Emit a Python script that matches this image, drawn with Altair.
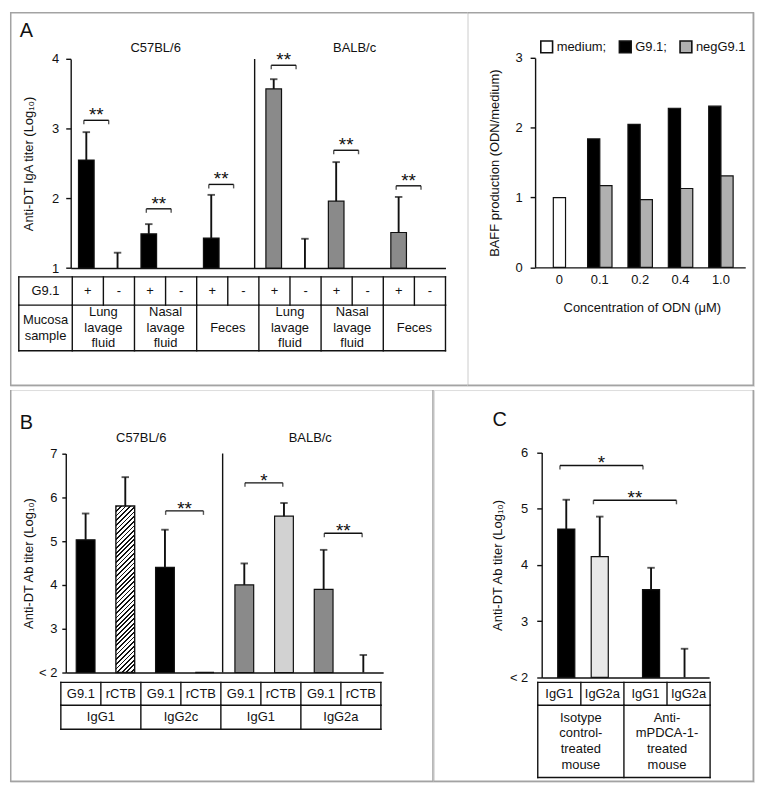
import altair as alt
import pandas as pd

FONT = "Liberation Sans"
INK = "#111111"
FRAME = "#a3a3a3"
FS = 13

# ---------------- data ----------------
# Panel A (left): anti-DT IgA titer (log10) in mucosal samples
a_strain = ["C57BL/6"] * 6 + ["BALB/c"] * 6
a_g91 = ["+", "-"] * 6
a_sample = ["Lung\nlavage\nfluid", "Nasal\nlavage\nfluid", "Feces"] * 2
a_mean = [2.55, None, 1.49, None, 1.43, None, 3.57, None, 1.96, None, 1.51, None]
a_upper = [2.95, 1.22, 1.63, None, 2.05, None, 3.71, 1.42, 2.52, None, 2.02, None]
a_br_from = [0, 2, 4, 6, 8, 10]
a_br_to = [1, 3, 5, 7, 9, 11]
a_br_y = [3.12, 1.85, 2.20, 3.91, 2.69, 2.18]
a_br_label = ["**"] * 6
a_yticks = [1, 2, 3, 4]

# Panel A (right): BAFF production
odn_conc = ["0", "0.1", "0.2", "0.4", "1.0"]
baff_series = ["medium", "G9.1", "negG9.1"]
baff_medium = [1.00, None, None, None, None]
baff_g91 = [None, 1.84, 2.05, 2.28, 2.31]
baff_neg = [None, 1.17, 0.97, 1.13, 1.31]
baff_yticks = [0, 1, 2, 3]

# Panel B: anti-DT Ab titer (log10)
b_strain = ["C57BL/6"] * 4 + ["BALB/c"] * 4
b_adjuvant = ["G9.1", "rCTB"] * 4
b_isotype = ["IgG1", "IgG2c", "IgG1", "IgG2a"]
b_mean = [5.03, 5.80, 4.40, 2.00, 4.00, 5.57, 3.90, None]
b_upper = [5.63, 6.46, 5.26, None, 4.49, 5.87, 4.80, 2.40]
b_br_from = [2, 4, 6]
b_br_to = [3, 5, 7]
b_br_y = [5.69, 6.33, 5.18]
b_br_label = ["**", "*", "**"]
b_yticks = [2, 3, 4, 5, 6, 7]

# Panel C
c_treatment = ["Isotype\ncontrol-\ntreated\nmouse", "Anti-\nmPDCA-1-\ntreated\nmouse"]
c_isotype = ["IgG1", "IgG2a"]
c_mean = [4.64, 4.15, 3.56, None]
c_upper = [5.16, 4.86, 3.95, 2.51]
c_br_from = [0, 1]
c_br_to = [2, 3]
c_br_y = [5.77, 5.15]
c_br_label = ["*", "**"]
c_yticks = [2, 3, 4, 5, 6]

# ---------------- layout helpers ----------------
SX, SY = 0.99, 0.99
def X(r): return r * SX - 5
def Y(r): return r * SY - 5

W, H = 748, 770
TOP_H = round(Y(385))
BOT_H = H - TOP_H
AL_W = round(X(470))
AR_W = W - AL_W
B_W = round(X(435))
C_W = W - B_W

DUMMY = pd.DataFrame({"d": [0]})


def vline(x, y1, y2, color=FRAME, w=1.5):
    return alt.Chart(DUMMY).mark_rule(color=color, strokeWidth=w).encode(
        x=alt.value(x), y=alt.value(y1), y2=alt.value(y2))


def hline(x1, x2, y, color=FRAME, w=1.5):
    return alt.Chart(DUMMY).mark_rule(color=color, strokeWidth=w).encode(
        x=alt.value(x1), x2=alt.value(x2), y=alt.value(y))


def label(x, y, txt, size=FS, align="center", baseline="middle"):
    return alt.Chart(DUMMY).mark_text(font=FONT, fontSize=size, align=align,
                                      baseline=baseline, color=INK).encode(
        x=alt.value(x), y=alt.value(y), text=alt.value(txt))


def y_axis(values, title, axis_x, title_x, y_rng, tick=5, pad=6, label_expr=None):
    kw = dict(values=values, title=title, offset=-axis_x, tickSize=tick, labelPadding=pad,
              grid=False, domainColor=INK, domainWidth=1.4, tickColor=INK, tickWidth=1.4,
              labelFont=FONT, labelFontSize=FS, labelColor=INK,
              titleFont=FONT, titleFontSize=FS, titleFontWeight="normal", titleColor=INK,
              titleX=title_x - axis_x, titleY=(y_rng[0] + y_rng[1]) / 2,
              titleAngle=270, titleAlign="center", titleBaseline="middle")
    if label_expr:
        kw["labelExpr"] = label_expr
    return alt.Axis(**kw)


def x_axis_domain(y_bottom, cell_h):
    return alt.Axis(labels=False, ticks=False, title=None, grid=False,
                    domainColor=INK, domainWidth=1.4, offset=y_bottom - cell_h)


def table_layers(ncols, px0, px1, edges, rows, hdr_px=None, hdr_texts=None, lh=15.6):
    step = (px1 - px0) / ncols
    left = 0.0 if hdr_px is None else -(px0 - hdr_px) / step
    tx = alt.Scale(domain=[0, ncols], range=[px0, px1], zero=False, nice=False)
    texts, hl, vl = [], [], []

    def add_text(cx, yc, txt):
        n = txt.count("\n")
        texts.append(dict(cx=cx, py=yc - n * lh / 2, txt=txt))

    for r, cells in enumerate(rows):
        yt, yb = edges[r], edges[r + 1]
        yc = (yt + yb) / 2
        bnds = {left, float(ncols)}
        for c0, span, txt in cells:
            add_text(c0 + span / 2, yc, txt)
            bnds.add(float(c0))
        if hdr_texts:
            add_text(left / 2, yc, hdr_texts[r])
        for b in sorted(bnds):
            vl.append(dict(x=b, py1=yt, py2=yb))
    for e in edges:
        hl.append(dict(x1=left, x2=float(ncols), py=e))

    def TX(f):
        return alt.X(f, scale=tx, axis=None)

    l1 = alt.Chart(pd.DataFrame(hl)).mark_rule(color=INK, strokeWidth=1.4, strokeCap="square").encode(
        x=TX("x1:Q"), x2=alt.X2("x2"), y=alt.Y("py:Q", scale=None, axis=None))
    l2 = alt.Chart(pd.DataFrame(vl)).mark_rule(color=INK, strokeWidth=1.4, strokeCap="square").encode(
        x=TX("x:Q"), y=alt.Y("py1:Q", scale=None, axis=None), y2=alt.Y2("py2"))
    l3 = alt.Chart(pd.DataFrame(texts)).mark_text(
        font=FONT, fontSize=FS, lineBreak="\n", lineHeight=lh, color=INK,
        align="center", baseline="middle").encode(
        x=TX("cx:Q"), y=alt.Y("py:Q", scale=None, axis=None), text="txt:N")
    return alt.layer(l1, l2, l3)


def bracket_layers(items, xscale, xaxis, yscale, yaxis, star_dy, tick_len=4.0):
    """items: list of (from_cat, to_cat, off_from_px, off_to_px, dist_px, y, label)"""
    out = []
    for cf, ct, of, ot, dist, yv, lab in items:
        d = alt.Chart(pd.DataFrame({"f": [cf], "t": [ct], "y": [yv], "lab": [lab]}))
        XF = alt.X("f:N", scale=xscale, axis=xaxis)
        XT = alt.X("t:N", scale=xscale, axis=xaxis)
        YY = alt.Y("y:Q", scale=yscale, axis=yaxis)
        out.append(d.mark_rule(color=INK, strokeWidth=1.4, xOffset=of, x2Offset=ot).encode(
            x=XF, x2=alt.X2("t"), y=YY))
        out.append(d.mark_tick(orient="vertical", size=tick_len, thickness=1.4, color=INK,
                               xOffset=of, yOffset=tick_len / 2).encode(x=XF, y=YY))
        out.append(d.mark_tick(orient="vertical", size=tick_len, thickness=1.4, color=INK,
                               xOffset=ot, yOffset=tick_len / 2).encode(x=XT, y=YY))
        out.append(d.mark_text(font=FONT, fontSize=19, color=INK, align="center",
                               baseline="alphabetic", dx=(dist + of + ot) / 2,
                               dy=star_dy).encode(x=XF, y=YY, text="lab:N"))
    return out


def hatch_gradient(w, h, period=4.6, duty=0.38):
    a = w / h
    k = (w + h) / (h * (1 + a * a))
    n = int((w + h) / period)
    stops = []
    for i in range(n):
        s0, s1, s2 = i / n, (i + duty) / n, (i + 1) / n
        stops += [{"offset": s0, "color": INK}, {"offset": s1, "color": INK},
                  {"offset": s1, "color": "#ffffff"}, {"offset": s2, "color": "#ffffff"}]
    return {"gradient": "linear", "x1": 0, "y1": 0, "x2": k * a, "y2": k, "stops": stops}


WH_W = 1.9  # whisker stroke width

# ================= Panel A (left) =================
aL_y0, aL_y1 = Y(265), Y(52.7)
aL_ax = X(66.7)
aL_x1 = X(447.3)
a_ids = [f"a{i:02d}" for i in range(len(a_g91))]
A_MIN = 1
xA = alt.Scale(domain=a_ids, range=[aL_ax, aL_x1], paddingInner=0.5, paddingOuter=0.25)
yA = alt.Scale(domain=[A_MIN, 4], range=[aL_y0, aL_y1], zero=False, nice=False)
axXA = x_axis_domain(aL_y0, TOP_H)
axYA = y_axis(a_yticks, "Anti-DT IgA titer (Log₁₀)", aL_ax, X(24), (aL_y0, aL_y1), tick=5, pad=7)
stepA = (aL_x1 - aL_ax) / len(a_ids)

dfA = pd.DataFrame({"id": a_ids, "strain": a_strain, "mean": a_mean, "upper": a_upper})
dfA["base"] = A_MIN
XA = alt.X("id:N", scale=xA, axis=axXA)

a_bars = alt.Chart(dfA).transform_filter("isValid(datum.mean)").mark_bar(
    stroke=INK, strokeWidth=1.2).encode(
    x=XA, y=alt.Y("mean:Q", scale=yA, axis=axYA, stack=None), y2=alt.Y2("base"),
    fill=alt.Fill("strain:N", scale=alt.Scale(domain=["C57BL/6", "BALB/c"],
                                              range=["#000000", "#8a8a8a"]), legend=None))
a_wh = alt.Chart(dfA).transform_filter("isValid(datum.upper)").transform_calculate(
    lo=f"isValid(datum.mean) ? datum.mean : {A_MIN}").mark_rule(color=INK, strokeWidth=WH_W).encode(
    x=XA, y=alt.Y("lo:Q", scale=yA, axis=axYA), y2=alt.Y2("upper"))
a_cap = alt.Chart(dfA).transform_filter("isValid(datum.upper)").mark_tick(
    orient="horizontal", size=7.5, thickness=WH_W, color=INK).encode(
    x=XA, y=alt.Y("upper:Q", scale=yA, axis=axYA))
a_items = [(a_ids[f], a_ids[t], -2.5 * SX, -9 * SX, (t - f) * stepA, yv, lab)
           for f, t, yv, lab in zip(a_br_from, a_br_to, a_br_y, a_br_label)]
a_br = bracket_layers(a_items, xA, axXA, yA, axYA, star_dy=1)
a_data = alt.layer(a_bars, a_wh, a_cap, *a_br)

a_rows = [[(i, 1, g) for i, g in enumerate(a_g91)],
          [(2 * i, 2, s) for i, s in enumerate(a_sample)]]
a_table = table_layers(len(a_g91), X(68.3), X(447.3), [Y(274), Y(302.7), Y(349)], a_rows,
                       hdr_px=X(14), hdr_texts=["G9.1", "Mucosa\nsample"], lh=15.6)

a_deco = alt.layer(
    hline(0, AL_W, 0.75), vline(0.75, 0, TOP_H), hline(0, AL_W, TOP_H - 0.75),
    vline(X(253.5), aL_y1, aL_y0, color=INK, w=1.4),
    label(X(15), Y(30), "A", size=20, align="left", baseline="alphabetic"),
    label(X(153), Y(42), "C57BL/6"), label(X(355), Y(42), "BALB/c"),
)
panel_AL = alt.layer(a_data, a_table, a_deco).resolve_scale(
    x="independent", y="independent").properties(width=AL_W, height=TOP_H)

# ================= Panel A (right) =================
aR_ax = X(538.3) - AL_W
aR_x1 = X(751.7) - AL_W
aR_y0, aR_y1 = Y(264.3), Y(51.7)
stepR = (X(730.7) - X(566.7)) / 4
pairR = 2 * 12.4 * SX
pR = 1 - pairR / stepR
poR = ((aR_x1 - aR_ax) / stepR - (len(odn_conc) - pR)) / 2
xR = alt.Scale(domain=odn_conc, range=[aR_ax, aR_x1], paddingInner=pR, paddingOuter=poR)
yR = alt.Scale(domain=[0, 3], range=[aR_y0, aR_y1], zero=False, nice=False)
axXR = alt.Axis(labels=True, ticks=False, tickSize=0, labelPadding=6, labelAngle=0, grid=False,
                domainColor=INK, domainWidth=1.4, offset=aR_y0 - TOP_H,
                labelFont=FONT, labelFontSize=FS, labelColor=INK,
                title="Concentration of ODN (μM)", titleFont=FONT, titleFontSize=FS,
                titleFontWeight="normal", titleColor=INK,
                titleX=X(646.7) - AL_W, titleY=Y(305) - aR_y0,
                titleAlign="center", titleBaseline="middle")
axYR = y_axis(baff_yticks, "BAFF production (ODN/medium)", aR_ax, X(496.7) - AL_W,
              (aR_y0, aR_y1), tick=5, pad=8)

rows = []
for i, c in enumerate(odn_conc):
    for s, arr in zip(baff_series, [baff_medium, baff_g91, baff_neg]):
        if arr[i] is not None:
            rows.append(dict(conc=c, series=s, value=arr[i]))
dfR = pd.DataFrame(rows)
fillR = alt.Fill("series:N", scale=alt.Scale(domain=baff_series,
                                             range=["#ffffff", "#000000", "#b0b0b0"]),
                 legend=alt.Legend(orient="none", legendX=X(543) - AL_W, legendY=Y(40) - 7,
                                   direction="horizontal", columns=3, title=None,
                                   symbolType="square", symbolSize=140,
                                   symbolStrokeColor=INK, symbolStrokeWidth=1.6,
                                   labelFont=FONT, labelFontSize=FS, labelColor=INK,
                                   labelOffset=3, columnPadding=9,
                                   labelExpr="datum.label == 'negG9.1' ? datum.label : datum.label + ';'"))
# medium sits alone at the centre of its slot; G9.1 / negG9.1 share a slot side by side
series_shift = {"medium": 0.0, "G9.1": -pairR / 4, "negG9.1": pairR / 4}
r_layers = []
for s in baff_series:
    r_layers.append(
        alt.Chart(dfR).transform_filter(f"datum.series == '{s}'").mark_bar(
            stroke=INK, strokeWidth=1.2, width=alt.RelativeBandSize(0.5),
            xOffset=series_shift[s]).encode(
            x=alt.X("conc:N", scale=xR, axis=axXR),
            y=alt.Y("value:Q", scale=yR, axis=axYR, stack=None), fill=fillR))
r_deco = alt.layer(hline(0, AR_W, 0.75), vline(AR_W - 0.75, 0, TOP_H),
                   hline(0, AR_W, TOP_H - 0.75))
panel_AR = alt.layer(*r_layers, r_deco).properties(width=AR_W, height=TOP_H)

# ================= Panel B =================
b_y0, b_y1 = Y(671.7) - TOP_H, Y(449.3) - TOP_H
b_ax = X(61.7)
b_x1 = X(384)
B_MIN = 2
b_ids = [f"b{i}" for i in range(len(b_adjuvant))]
pB = 0.527
xB = alt.Scale(domain=b_ids, range=[b_ax, b_x1], paddingInner=pB, paddingOuter=pB / 2)
yB = alt.Scale(domain=[B_MIN, 7], range=[b_y0, b_y1], zero=False, nice=False)
stepB = (b_x1 - b_ax) / len(b_ids)
bwB = stepB * (1 - pB)
axXB = x_axis_domain(b_y0, BOT_H)
axYB = y_axis(b_yticks, "Anti-DT Ab titer (Log₁₀)", b_ax, X(24), (b_y0, b_y1), tick=4, pad=5,
              label_expr="datum.value == 2 ? '< 2' : datum.label")
dfB = pd.DataFrame({"id": b_ids, "strain": b_strain, "adj": b_adjuvant,
                    "mean": b_mean, "upper": b_upper})
dfB["key"] = dfB["strain"] + "|" + dfB["adj"]
dfB["base"] = B_MIN
XB = alt.X("id:N", scale=xB, axis=axXB)
HATCH_KEY = "C57BL/6|rCTB"
hatch_val = float(dfB.loc[dfB["key"] == HATCH_KEY, "mean"].iloc[0])
hatch_h = (hatch_val - B_MIN) * (b_y0 - b_y1) / (7 - B_MIN)

b_bars = alt.Chart(dfB).transform_filter("isValid(datum.mean)").transform_filter(
    f"datum.key != '{HATCH_KEY}'").mark_bar(stroke=INK, strokeWidth=1.2).encode(
    x=XB, y=alt.Y("mean:Q", scale=yB, axis=axYB, stack=None), y2=alt.Y2("base"),
    fill=alt.Fill("key:N", scale=alt.Scale(
        domain=["C57BL/6|G9.1", "C57BL/6|rCTB", "BALB/c|G9.1", "BALB/c|rCTB"],
        range=["#000000", "#ffffff", "#8a8a8a", "#d2d2d2"]), legend=None))
b_hatch = alt.Chart(dfB).transform_filter(f"datum.key == '{HATCH_KEY}'").mark_bar(
    stroke=INK, strokeWidth=1.4, fill=hatch_gradient(bwB, hatch_h)).encode(
    x=XB, y=alt.Y("mean:Q", scale=yB, axis=axYB, stack=None), y2=alt.Y2("base"))
b_wh = alt.Chart(dfB).transform_filter("isValid(datum.upper)").transform_calculate(
    lo=f"isValid(datum.mean) ? datum.mean : {B_MIN}").mark_rule(color=INK, strokeWidth=WH_W).encode(
    x=XB, y=alt.Y("lo:Q", scale=yB, axis=axYB), y2=alt.Y2("upper"))
b_cap = alt.Chart(dfB).transform_filter("isValid(datum.upper)").mark_tick(
    orient="horizontal", size=7.5, thickness=WH_W, color=INK).encode(
    x=XB, y=alt.Y("upper:Q", scale=yB, axis=axYB))
b_items = [(b_ids[f], b_ids[t], 0.7 * SX, -1.2 * SX, (t - f) * stepB, yv, lab)
           for f, t, yv, lab in zip(b_br_from, b_br_to, b_br_y, b_br_label)]
b_br = bracket_layers(b_items, xB, axXB, yB, axYB, star_dy=4)
b_data = alt.layer(b_bars, b_hatch, b_wh, b_cap, *b_br)

b_rows = [[(i, 1, a) for i, a in enumerate(b_adjuvant)],
          [(2 * i, 2, s) for i, s in enumerate(b_isotype)]]
b_table = table_layers(len(b_adjuvant), X(56.7), X(381.7),
                       [Y(681.7) - TOP_H, Y(705) - TOP_H, Y(729.3) - TOP_H], b_rows)
b_deco = alt.layer(
    vline(0.75, 0, BOT_H), hline(0, B_W, BOT_H - 0.75), vline(B_W - 0.75, 0, BOT_H),
    vline(X(221), b_y1, b_y0, color=INK, w=1.4),
    label(X(15), Y(424) - TOP_H, "B", size=20, align="left", baseline="alphabetic"),
    label(X(138.3), Y(433.3) - TOP_H, "C57BL/6"), label(X(310), Y(433.3) - TOP_H, "BALB/c"),
)
panel_B = alt.layer(b_data, b_table, b_deco).resolve_scale(
    x="independent", y="independent").properties(width=B_W, height=BOT_H)

# ================= Panel C =================
c_ax = X(545) - B_W
c_x1 = X(715) - B_W
c_y0, c_y1 = Y(676.7) - TOP_H, Y(448.3) - TOP_H
C_MIN = 2
grp_step = 86.1 * SX
grp_bw = 68 * SX
pC = 1 - grp_bw / grp_step
poC = ((c_x1 - c_ax) / grp_step - (len(c_treatment) - pC)) / 2
xC = alt.Scale(domain=c_treatment, range=[c_ax, c_x1], paddingInner=pC, paddingOuter=poC)
yC = alt.Scale(domain=[C_MIN, 6], range=[c_y0, c_y1], zero=False, nice=False)
axXC = x_axis_domain(c_y0, BOT_H)
axYC = y_axis(c_yticks, "Anti-DT Ab titer (Log₁₀)", c_ax, X(500) - B_W, (c_y0, c_y1),
              tick=5, pad=9, label_expr="datum.value == 2 ? '< 2' : datum.label")
sub_off = {c_isotype[0]: -grp_bw / 4, c_isotype[1]: grp_bw / 4}
sub_band = 0.255   # bar width relative to the group slot

dfC = pd.DataFrame({"grp": [g for g in c_treatment for _ in c_isotype],
                    "iso": c_isotype * len(c_treatment),
                    "mean": c_mean, "upper": c_upper})
dfC["base"] = C_MIN
XC = alt.X("grp:N", scale=xC, axis=axXC)
fillC = alt.Fill("iso:N", scale=alt.Scale(domain=c_isotype, range=["#000000", "#e8e8e8"]),
                 legend=None)
c_layers = []
for iso in c_isotype:
    src = alt.Chart(dfC).transform_filter(f"datum.iso == '{iso}'")
    off = sub_off[iso]
    c_layers.append(src.transform_filter("isValid(datum.mean)").mark_bar(
        stroke=INK, strokeWidth=1.2, width=alt.RelativeBandSize(sub_band), xOffset=off).encode(
        x=XC, y=alt.Y("mean:Q", scale=yC, axis=axYC, stack=None), y2=alt.Y2("base"), fill=fillC))
    c_layers.append(src.transform_filter("isValid(datum.upper)").transform_calculate(
        lo=f"isValid(datum.mean) ? datum.mean : {C_MIN}").mark_rule(
        color=INK, strokeWidth=WH_W, xOffset=off).encode(
        x=XC, y=alt.Y("lo:Q", scale=yC, axis=axYC), y2=alt.Y2("upper")))
    c_layers.append(src.transform_filter("isValid(datum.upper)").mark_tick(
        orient="horizontal", size=7.5, thickness=WH_W, color=INK, xOffset=off).encode(
        x=XC, y=alt.Y("upper:Q", scale=yC, axis=axYC)))
c_items = []
for f, t, yv, lab in zip(c_br_from, c_br_to, c_br_y, c_br_label):
    gf, gt = dfC["grp"][f], dfC["grp"][t]
    of = sub_off[dfC["iso"][f]] - 6.4 * SX
    ot = sub_off[dfC["iso"][t]] - 8.2 * SX
    dist = (c_treatment.index(gt) - c_treatment.index(gf)) * grp_step
    c_items.append((gf, gt, of, ot, dist, yv, lab))
c_br = bracket_layers(c_items, xC, axXC, yC, axYC, star_dy=4)
c_data = alt.layer(*c_layers, *c_br)

c_rows = [[(2 * g + i, 1, iso) for g in range(len(c_treatment)) for i, iso in enumerate(c_isotype)],
          [(2 * g, 2, t) for g, t in enumerate(c_treatment)]]
c_table = table_layers(4, X(541) - B_W, X(716) - B_W,
                       [Y(681.7) - TOP_H, Y(705) - TOP_H, Y(778.3) - TOP_H], c_rows, lh=15.8)
c_deco = alt.layer(
    vline(C_W - 0.75, 0, BOT_H), hline(0, C_W, BOT_H - 0.75),
    label(X(495) - B_W, Y(421.7) - TOP_H, "C", size=20, align="left", baseline="alphabetic"),
)
panel_C = alt.layer(c_data, c_table, c_deco).resolve_scale(
    x="independent", y="independent").properties(width=C_W, height=BOT_H)

# ================= assemble =================
top = alt.hconcat(panel_AL, panel_AR, spacing=0, bounds="flush").resolve_scale(fill="independent")
bottom = alt.hconcat(panel_B, panel_C, spacing=0, bounds="flush").resolve_scale(fill="independent")
chart = alt.vconcat(top, bottom, spacing=0).resolve_scale(fill="independent").properties(
    padding=0, background="white"
).configure_view(stroke="transparent", strokeWidth=0).configure(font=FONT)

chart.save("out.html", embed_options={"renderer": "svg", "actions": False})
